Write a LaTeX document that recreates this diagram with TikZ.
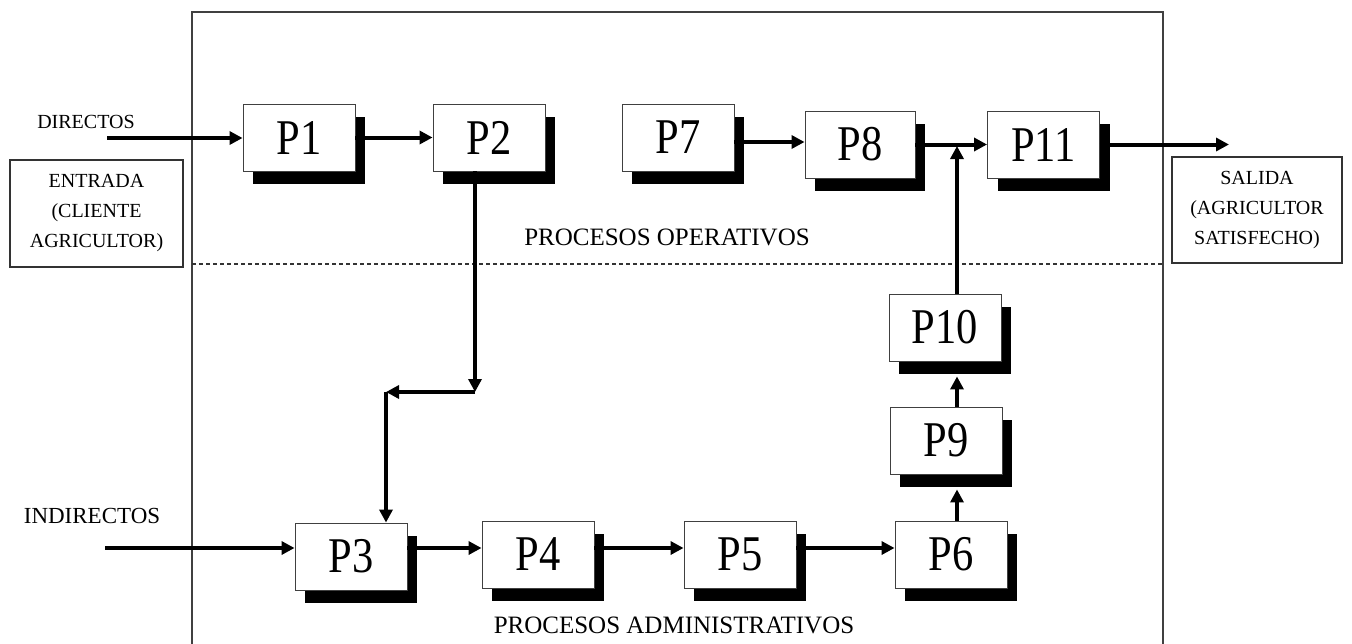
\documentclass[tikz,border=0pt]{standalone}
\usepackage{fontspec}
\setmainfont{Liberation Serif}
\newfontfamily\pfont{Liberation Serif}[FakeStretch=0.85]
\usetikzlibrary{arrows.meta,shadows,calc}
\begin{document}
\begin{tikzpicture}[x=1pt,y=-1pt,
 pbox/.style={draw=black!75, line width=0.9pt, fill=white, minimum width=112pt, minimum height=67pt, inner sep=0pt,
   font=\pfont\fontsize{50}{50}\selectfont,
   drop shadow={shadow xshift=10pt, shadow yshift=-13pt, fill=black, opacity=1}},
 conn/.style={line width=4pt, -{Triangle[length=13pt,width=13pt]}},
 lbl/.style={font=\fontsize{20}{30}\selectfont, align=center, inner sep=0pt},
 sidebox/.style={draw=black!80, line width=1.2pt, lbl},
 frame/.style={draw=black!75, line width=1.4pt},
 title/.style={font=\fontsize{25}{25}\selectfont, inner sep=0pt},
]
\useasboundingbox (0,0) rectangle (1352,643);
\clip (0,0) rectangle (1352,643);
\fill[white] (0,0) rectangle (1352,643);

% frame and separator
\draw[frame] (192,700) -- (192,12) -- (1163,12) -- (1163,700);
\draw[draw=black!80, line width=1.3pt, dash pattern=on 4pt off 3pt] (192,264) -- (1163,264);

% side boxes and labels
\node[sidebox, minimum width=173pt, minimum height=107pt] (entrada) at (96.5,213.5) {ENTRADA\\(CLIENTE\\AGRICULTOR)};
\node[sidebox, minimum width=170pt, minimum height=106pt] (salida) at (1257,210) {SALIDA\\(AGRICULTOR\\SATISFECHO)};
\node[lbl] (dir) at (86,122) {DIRECTOS};
\node[lbl, font=\fontsize{23}{23}\selectfont] (indir) at (92,516) {INDIRECTOS};
\node[title] (po) at (667,237) {PROCESOS OPERATIVOS};
\node[title] (pa) at (674,625) {PROCESOS ADMINISTRATIVOS};

% process boxes
\node[pbox] (P1) at (299,137.5) {P1};
\node[pbox] (P2) at (489,137.5) {P2};
\node[pbox] (P7) at (678,137.5) {P7};
\node[pbox, minimum width=110pt] (P8) at (860,144.5) {P8};
\node[pbox] (P11) at (1043.5,144.5) {P11};
\node[pbox] (P10) at (945,327.5) {P10};
\node[pbox] (P9) at (946,440.5) {P9};
\node[pbox] (P3) at (351,556.5) {P3};
\node[pbox] (P4) at (538,554.5) {P4};
\node[pbox] (P5) at (740,554.5) {P5};
\node[pbox] (P6) at (951,554.5) {P6};

% helper coordinates
\coordinate (din) at (107,138);
\coordinate (iin) at (105,548);
\coordinate (c1) at (475,392);
\coordinate (c2) at (386,392);
\coordinate (ax) at (957,0);
\coordinate (j) at (957,146);
\coordinate (out) at (1229,144.5);

% connectors
\draw[conn] (din) -- (din -| P1.west);
\draw[conn] (P1.east) -- (P2.west);
\draw[conn] (c1 |- P2.south) -- (c1);
\draw[conn] (c1) -- (c2);
\draw[conn] (c2) -- (c2 |- P3.north);
\draw[conn] (P7.east |- 0,142) -- (P8.west |- 0,142);
\draw[conn] (P8.east) -- (P11.west);
\draw[conn] (P11.east) -- (out);
\draw[conn] (iin) -- (iin -| P3.west);
\draw[conn] (P3.east |- iin) -- (P4.west |- iin);
\draw[conn] (P4.east |- iin) -- (P5.west |- iin);
\draw[conn] (P5.east |- iin) -- (P6.west |- iin);
\draw[conn] (ax |- P6.north) -- ($(ax |- P9.south)+(0,15)$);
\draw[conn] (ax |- P9.north) -- ($(ax |- P10.south)+(0,15)$);
\draw[conn] (ax |- P10.north) -- (j);
\end{tikzpicture}
\end{document}
